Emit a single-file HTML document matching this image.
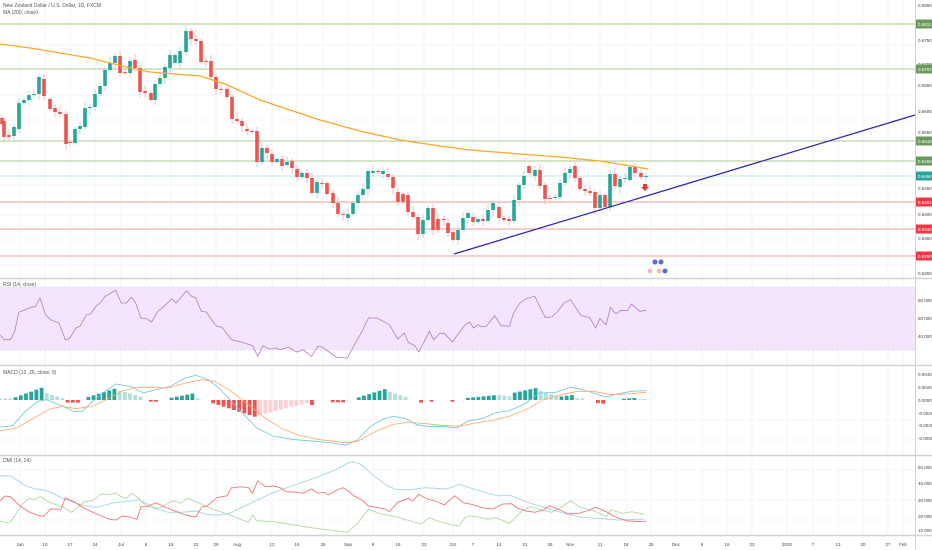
<!DOCTYPE html>
<html><head><meta charset="utf-8"><style>
html,body{margin:0;padding:0;background:#fff;width:932px;height:550px;overflow:hidden}
svg{display:block;font-family:"Liberation Sans",sans-serif}
</style></head><body>
<svg id="s" width="932" height="550" viewBox="0 0 932 550" xmlns="http://www.w3.org/2000/svg">
<rect width="932" height="550" fill="#fff"/>
<g id="grid"></g>
<!-- RSI band -->
<rect x="0" y="287" width="915" height="63" fill="#f3e5fd"/>
<line x1="0" y1="287" x2="915" y2="287" stroke="#d9c2ea" stroke-width="0.6" stroke-dasharray="2,2"/>
<line x1="0" y1="350" x2="915" y2="350" stroke="#d9c2ea" stroke-width="0.6" stroke-dasharray="2,2"/>
<line x1="0" y1="318" x2="915" y2="318" stroke="#e6d4f2" stroke-width="0.5" stroke-dasharray="2,2"/>
<!-- horizontal levels -->
<g stroke-width="1">
<line x1="0" y1="24" x2="915" y2="24" stroke="#a9cc93"/>
<line x1="0" y1="69" x2="915" y2="69" stroke="#a9cc93"/>
<line x1="0" y1="141" x2="915" y2="141" stroke="#a9cc93"/>
<line x1="0" y1="161" x2="915" y2="161" stroke="#a9cc93"/>
<line x1="0" y1="176" x2="915" y2="176" stroke="#c5e6e3"/>
<line x1="0" y1="202" x2="915" y2="202" stroke="#f29c9a"/>
<line x1="0" y1="229" x2="915" y2="229" stroke="#f29c9a"/>
<line x1="0" y1="256" x2="915" y2="256" stroke="#f29c9a"/>
</g>
<g id="cand"></g>
<polyline id="ma" fill="none" stroke="#ffa726" stroke-width="1.3" points="0,44 30,48 60,53 90,58 110,63 130,68 150,72 175,74 200,76 225,84 260,100 290,110 320,120 360,131 400,140 440,146 470,150 520,154 560,157 600,161 625,165 648,169"/>
<line x1="454" y1="254" x2="915" y2="115" stroke="#2c2cb0" stroke-width="1.3"/>
<path d="M643,184 h4 v3 h2 l-4,4 l-4,-4 h2z" fill="#e53935"/>
<g>
<circle cx="655" cy="262" r="2.5" fill="#5b6bd1"/><circle cx="661" cy="262" r="2.5" fill="#5b6bd1"/>
<circle cx="650" cy="271" r="2.3" fill="#f5b7b1"/><circle cx="659" cy="271" r="2.3" fill="#f5b7b1"/><circle cx="665" cy="271" r="2.5" fill="#5b6bd1"/>
</g>
<g id="ind"></g>
<!-- separators -->
<g stroke="#cfd2d9">
<line x1="0" y1="278.5" x2="932" y2="278.5" stroke-width="1.5"/>
<line x1="0" y1="365.5" x2="932" y2="365.5" stroke-width="1.5"/>
<line x1="0" y1="455.5" x2="932" y2="455.5" stroke-width="1.5"/>
<line x1="0" y1="535.5" x2="932" y2="535.5" stroke-width="1.5"/>
<line x1="915.5" y1="0" x2="915.5" y2="550" stroke-width="1"/>
</g>
<g font-size="5" fill="#555">
<text x="3" y="7">New Zealand Dollar / U.S. Dollar, 1D, FXCM</text>
<text x="3" y="14">MA (200, close)</text>
<text x="3" y="286">RSI (14, close)</text>
<text x="3" y="374">MACD (12, 26, close, 9)</text>
<text x="3" y="462">DMI (14, 14)</text>
</g>
<g id="axis" font-size="4.5" fill="#444"></g>
</svg>
<script>
var NS="http://www.w3.org/2000/svg";
function el(p,t,a,txt){var e=document.createElementNS(NS,t);for(var k in a)e.setAttribute(k,a[k]);if(txt!=null)e.textContent=txt;p.appendChild(e);return e;}
var grid=document.getElementById('grid'),axis=document.getElementById('axis');
var dx=[20,45,70,95,121,146,171,196,216,237,272,297,323,348,373,398,424,453,473,499,525,550,570,600,626,651,676,702,727,752,787,813,838,863,888,903];
var dl=["Jun","10","17","24","Jul","8","15","22","29","Aug","12","19","26","Sep","9","16","23","Oct","7","14","21","28","Nov","11","18","25","Dec","9","16","23","2020","7","13","20","27","Feb"];
dx.forEach(function(x,i){el(grid,'line',{x1:x,y1:0,x2:x,y2:535,stroke:'#f0f3fa','stroke-width':0.8});el(axis,'text',{x:x,y:546,'text-anchor':'middle'},dl[i]);});
[45,95,120,185,215,240,265,300,330,420,440,470,500,520].forEach(function(y){el(grid,'line',{x1:0,y1:y,x2:915,y2:y,stroke:'#f0f3fa','stroke-width':0.8});});
// price axis ticks
[[5,"0.68500"],[40,"0.67500"],[64,"0.67000"],[85,"0.66500"],[111,"0.66000"],[132,"0.65500"],[188,"0.64500"],[214,"0.64000"],[238,"0.63500"],[273,"0.62500"]].forEach(function(t){el(axis,'text',{x:918,y:t[0]+2},t[1]);});
[[24,"#6a9a5b","0.6811"],[69,"#6a9a5b","0.6707"],[141,"#6a9a5b","0.6542"],[161,"#6a9a5b","0.6494"],[176,"#26a69a","0.6460"],[202,"#f23645","0.6401"],[229,"#f23645","0.6340"],[256,"#f23645","0.6280"]].forEach(function(b){el(axis,'rect',{x:916,y:b[0]-4.5,width:16,height:9,fill:b[1]});el(axis,'text',{x:918,y:b[0]+1.8,fill:'#fff'},b[2]);});
// indicator axes
[[300,"60.0000"],[318,"50.0000"],[336,"40.0000"],[374,"0.00400"],[387,"0.00200"],[400,"0.00000"],[413,"-0.00200"],[425,"-0.00400"],[438,"-0.00600"],[467,"50.0000"],[483,"40.0000"],[500,"30.0000"],[516,"20.0000"],[530,"10.0000"]].forEach(function(t){el(axis,'text',{x:918,y:t[0]+2},t[1]);});
// candles [x,o,c]
var C=[[2,118,124],[4,121,137],[9,135,137],[14,136,127],[19,129,103],[24,103,100],[29,100,95],[34,95,94],[39,94,77],[44,79,96],[50,99,109],[55,108,112],[60,112,114],[66,114,144],[70,142,143],[75,143,129],[80,129,126],[85,127,108],[90,108,107],[95,107,94],[100,94,86],[105,86,70],[110,70,63],[115,63,56],[120,56,73],[125,72,73],[130,73,61],[135,60,68],[140,68,92],[145,91,93],[151,93,100],[155,100,84],[160,84,78],[165,78,67],[170,68,55],[175,63,55],[180,63,51],[186,52,31],[191,31,39],[196,39,41],[201,41,62],[206,61,62],[211,61,77],[216,77,89],[221,89,90],[227,89,97],[232,97,119],[237,119,121],[242,121,126],[247,129,131],[252,131,132],[257,131,162],[262,162,148],[267,148,153],[272,154,162],[277,162,159],[282,159,166],[287,165,162],[292,161,168],[297,169,177],[302,177,173],[307,173,178],[312,178,193],[317,193,182],[322,183,184],[327,183,194],[333,193,203],[338,203,214],[343,214,215],[348,218,214],[353,214,203],[358,203,195],[363,195,189],[368,189,171],[373,173,171],[378,171,172],[383,174,171],[388,174,177],[393,177,188],[398,192,202],[403,194,202],[408,195,212],[413,212,217],[418,217,234],[423,234,220],[428,220,208],[433,208,230],[438,219,230],[444,219,220],[448,223,233],[453,232,240],[458,240,230],[463,230,218],[468,218,213],[473,217,222],[478,222,219],[483,219,221],[488,221,210],[493,210,203],[499,207,218],[504,218,220],[509,219,221],[514,221,200],[519,200,185],[524,185,176],[529,166,173],[535,176,170],[540,170,186],[545,185,199],[550,198,199],[555,198,197],[560,197,183],[565,183,173],[570,173,169],[575,166,178],[580,178,189],[585,189,191],[590,191,193],[595,192,208],[600,208,195],[605,195,207],[610,207,174],[615,174,186],[620,187,179],[625,179,178],[630,180,167],[635,167,173],[641,173,177],[646,177,176]];
var cg=document.getElementById('cand');
C.forEach(function(c,i){var up=c[2]<c[1];var col=up?'#26a69a':'#ef5350';var t=Math.min(c[1],c[2]),b=Math.max(c[1],c[2]);var h=2+((i*7)%5),l=2+((i*3)%5);
el(cg,'line',{x1:c[0],y1:t-h,x2:c[0],y2:b+l,stroke:up?'#9fd7d1':'#f5aeb0','stroke-width':0.8});
el(cg,'rect',{x:c[0]-1.8,y:t,width:3.6,height:Math.max(1,b-t),fill:col});});
var ind=document.getElementById('ind');
function pl(pts,sx,oy,sy,col,w){var s=[];for(var i=0;i<pts.length;i+=2)s.push((pts[i]*sx).toFixed(1)+','+(oy+pts[i+1]*sy).toFixed(1));el(ind,'polyline',{points:s.join(' '),fill:'none',stroke:col,'stroke-width':w});}
var k=0.421;
pl([0,170,10,185,25,185,35,160,45,103,60,95,75,88,85,85,95,60,108,110,120,125,140,135,155,185,165,182,180,150,190,145,205,110,215,108,228,85,240,72,250,55,275,37,288,75,300,75,312,58,322,75,335,120,348,122,360,132,375,100,390,85,408,62,418,75,430,58,443,38,455,55,465,60,478,100,490,102,505,130,515,145,527,148,550,185,575,193,600,203,612,235,625,203,640,213,655,210,665,215,685,207,705,222,720,215,740,235,755,205,765,207,800,238,825,240,840,205,860,160,875,120,895,120,910,130,925,140,945,183,960,165,970,193,985,203,995,222,1020,160,1030,185,1045,166,1055,166,1075,192,1090,165,1105,140,1115,132,1125,150,1135,140,1145,147,1155,145,1175,113,1190,143,1210,145,1220,105,1235,75,1250,62,1270,55,1295,118,1310,117,1325,100,1340,75,1355,65,1380,113,1400,118,1415,150,1425,122,1440,140,1450,88,1463,108,1475,97,1490,98,1500,78,1520,100,1535,97],k,278,1/3,'#b07cc6',0.8);
// MACD histogram
var segs=[[0,30,'L',[5,5]],[30,100,'G',[5,37]],[100,150,'L',[25,5]],[160,190,'R',[8,8]],[200,280,'G',[5,37]],[280,340,'L',[30,8]],[350,375,'R',[5,5]],[400,460,'G',[5,20]],[460,480,'L',[5,5]],[495,612,'R',[5,53]],[615,735,'P',[45,8]],[735,746,'R',[15,15]],[785,820,'R',[7,7]],[845,915,'G',[5,33]],[915,975,'L',[28,5]],[990,1012,'R',[8,8]],[1025,1035,'R',[5,5]],[1065,1085,'R',[5,5]],[1100,1180,'G',[5,15]],[1185,1215,'L',[15,10]],[1215,1277,'G',[20,37]],[1277,1330,'L',[30,10]],[1330,1360,'G',[10,15]],[1360,1385,'L',[5,5]],[1410,1440,'R',[8,12]],[1475,1515,'G',[3,7]],[1515,1540,'L',[3,3]]];
var cols={G:'#26a69a',L:'#b2dfdb',R:'#ef5350',P:'#ffcdd2'};
for(var x=0;x<1540;x+=12.35){for(var j=0;j<segs.length;j++){var s=segs[j];if(x>=s[0]&&x<s[1]){var f=(s[1]-s[0])>0?(x-s[0])/(s[1]-s[0]):0;var h=(s[3][0]+(s[3][1]-s[3][0])*f)/3;var X=x*k;var neg=(s[2]=='R'||s[2]=='P');el(ind,'rect',{x:X-1.9,y:neg?400:400-h,width:3.8,height:h,fill:cols[s[2]]});break;}}}
pl([0,447,30,443,60,400,90,370,110,365,150,385,175,400,195,400,220,370,250,340,275,318,310,325,340,345,370,335,405,325,440,300,465,292,495,305,520,330,550,370,580,410,610,450,650,475,700,485,750,490,790,495,820,502,850,485,880,445,910,423,935,415,965,422,990,440,1020,446,1050,445,1085,450,1110,430,1150,420,1175,405,1210,398,1250,375,1280,345,1320,343,1355,328,1380,334,1410,345,1440,357,1470,347,1500,340,1535,338],k,278,1/3,'#6ec6d8',0.8);
pl([0,458,40,450,80,420,120,392,150,385,180,392,220,385,260,360,290,340,320,328,360,328,400,330,440,315,480,305,510,310,550,340,590,380,630,420,670,452,710,472,760,485,820,494,850,490,890,462,930,440,970,432,1010,437,1050,442,1090,445,1130,435,1170,427,1210,415,1250,395,1290,365,1330,352,1370,340,1410,340,1450,350,1490,348,1535,343],k,278,1/3,'#ffa66b',0.8);
// DMI
pl([0,62,25,63,40,75,60,92,85,102,105,105,125,115,145,128,170,140,200,152,230,157,250,150,275,142,300,140,330,135,355,150,380,165,400,172,430,172,465,168,490,178,515,181,545,175,590,148,650,112,700,90,750,68,800,43,825,25,840,20,860,30,880,55,920,92,940,103,970,105,1010,98,1060,102,1090,88,1120,100,1180,122,1215,122,1260,145,1300,160,1340,175,1380,187,1420,190,1470,195,1530,192],k,455,1/3,'#a7d3e0',0.9);
pl([0,198,20,205,30,193,50,150,70,130,80,135,95,125,115,140,150,157,170,172,200,140,220,137,240,118,265,118,275,113,290,127,300,130,312,115,325,125,345,150,370,162,390,152,410,137,430,145,445,130,460,137,480,148,500,160,540,177,590,202,600,180,610,197,650,200,700,210,750,220,825,232,850,205,875,163,900,175,940,185,1000,207,1020,188,1040,198,1075,210,1090,213,1105,187,1115,183,1140,187,1160,193,1175,187,1210,205,1240,168,1260,155,1280,162,1310,172,1330,160,1355,137,1380,158,1410,167,1440,185,1450,165,1480,175,1500,170,1530,178],k,455,1/3,'#b5d6a7',0.9);
pl([0,138,12,123,25,125,45,150,70,172,95,183,105,183,120,162,145,163,155,128,175,140,200,160,235,180,260,193,275,195,290,183,305,185,325,193,335,155,350,155,370,143,390,155,420,170,440,180,465,186,480,155,490,155,515,128,540,122,550,98,560,98,570,95,590,98,600,115,612,77,630,95,650,93,665,98,680,110,705,112,720,115,740,102,755,115,770,112,780,120,800,105,815,98,830,110,840,122,860,135,875,153,915,162,925,170,945,142,970,130,980,138,995,118,1015,132,1035,138,1055,150,1080,122,1100,143,1120,148,1145,158,1170,162,1195,147,1215,146,1230,160,1250,168,1270,172,1290,165,1305,152,1330,165,1350,177,1375,175,1400,165,1415,157,1440,170,1460,185,1490,198,1535,200],k,455,1/3,'#f07878',0.9);
</script>
</body></html>
